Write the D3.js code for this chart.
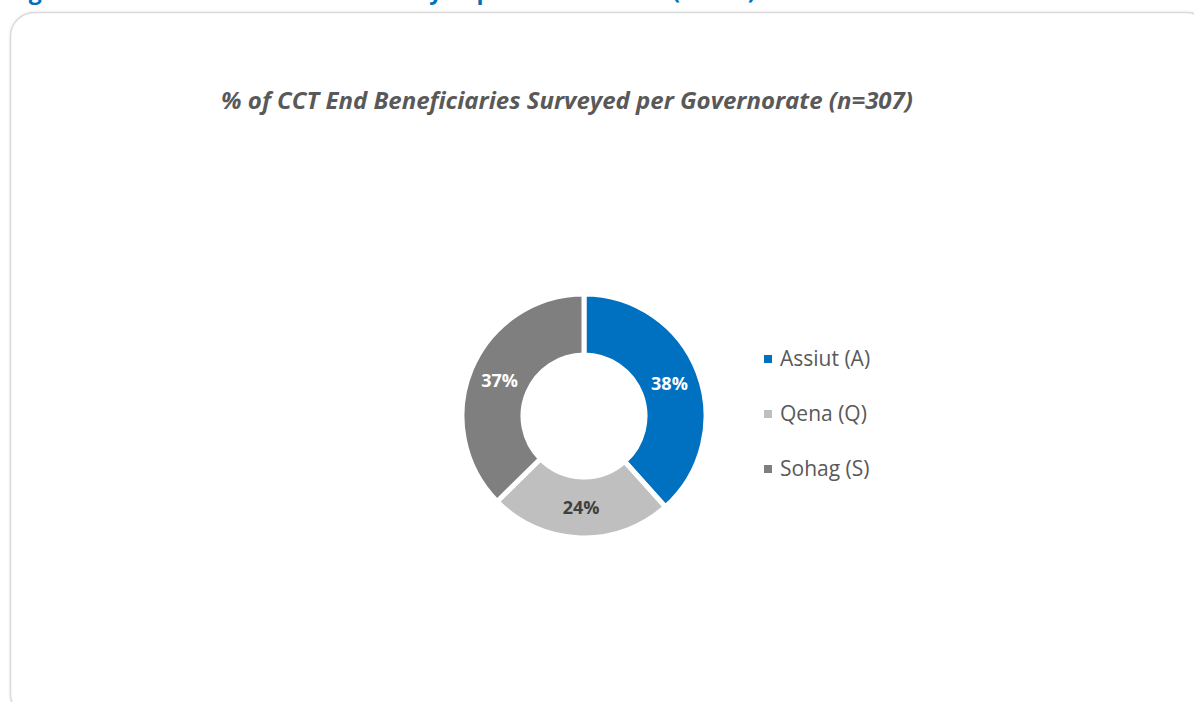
<!DOCTYPE html>
<html>
<head>
<meta charset="utf-8">
<script src="https://cdn.jsdelivr.net/npm/d3@7"></script>
<style>
  html, body { margin: 0; padding: 0; background: #ffffff; }
  svg { display: block; font-family: "Open Sans", sans-serif; }
</style>
</head>
<body>
<svg id="chart" width="1194" height="702"></svg>
<script>
// Share of surveyed CCT end beneficiaries by governorate (n=307)
const governorates = ["Assiut (A)", "Qena (Q)", "Sohag (S)"];
const shares = [38, 24, 37];
const sliceColors = ["#0070C0", "#BFBFBF", "#7F7F7F"];
const labelColors = ["#ffffff", "#404040", "#ffffff"];

const captionText = "Figure 2: CCT End Beneficiaries Surveyed per Governorate (n=307)";
const titleText = "% of CCT End Beneficiaries Surveyed per Governorate (n=307)";

const svg = d3.select("#chart");

// Figure caption running above the card
svg.append("text")
  .attr("x", 9)
  .attr("y", -1.5)
  .attr("fill", "#0070C0")
  .attr("font-size", 23)
  .attr("font-weight", 700)
  .text(captionText);

// Card with soft border
const defs = svg.append("defs");
const shadow = defs.append("filter").attr("id", "cardShadow")
  .attr("x", "-5%").attr("y", "-5%").attr("width", "110%").attr("height", "110%");
shadow.append("feDropShadow")
  .attr("dx", 0).attr("dy", 0).attr("stdDeviation", 1.2)
  .attr("flood-color", "#000").attr("flood-opacity", 0.12);

svg.append("rect")
  .attr("x", 10.5).attr("y", 12.5)
  .attr("width", 1200).attr("height", 705)
  .attr("rx", 24).attr("ry", 24)
  .attr("fill", "#ffffff")
  .attr("stroke", "#dadada")
  .attr("stroke-width", 1.5)
  .attr("filter", "url(#cardShadow)");

// Chart title
svg.append("text")
  .attr("x", 567)
  .attr("y", 109)
  .attr("text-anchor", "middle")
  .attr("fill", "#595959")
  .attr("font-size", 24)
  .attr("font-weight", 700)
  .attr("font-style", "italic")
  .text(titleText);

// Donut
const cx = 584, cy = 416;
const outerR = 122, innerR = 61;

const pie = d3.pie().sort(null).value(d => d);
const arcs = pie(shares);
const arc = d3.arc().innerRadius(innerR).outerRadius(outerR);
const labelArc = d3.arc().innerRadius((innerR + outerR) / 2).outerRadius((innerR + outerR) / 2);

const donut = svg.append("g").attr("transform", `translate(${cx},${cy})`);

donut.selectAll("path.slice")
  .data(arcs)
  .join("path")
  .attr("class", "slice")
  .attr("d", arc)
  .attr("fill", (d, i) => sliceColors[i])
  .attr("stroke", "#ffffff")
  .attr("stroke-width", 5)
  .attr("stroke-linejoin", "miter");

donut.selectAll("text.pct")
  .data(arcs)
  .join("text")
  .attr("class", "pct")
  .attr("transform", d => `translate(${labelArc.centroid(d)})`)
  .attr("text-anchor", "middle")
  .attr("dy", "0.36em")
  .attr("font-size", 18)
  .attr("font-weight", 700)
  .attr("fill", (d, i) => labelColors[i])
  .text(d => d3.format(".0f")(d.data) + "%");

// Legend
const legendY = d3.scalePoint()
  .domain(governorates)
  .range([359, 469]);

const legend = svg.append("g");
const items = legend.selectAll("g.item")
  .data(governorates)
  .join("g")
  .attr("class", "item")
  .attr("transform", d => `translate(764,${legendY(d)})`);

items.append("rect")
  .attr("x", 0).attr("y", -4)
  .attr("width", 8).attr("height", 8)
  .attr("fill", (d, i) => sliceColors[i]);

items.append("text")
  .attr("x", 16)
  .attr("dy", "0.35em")
  .attr("font-size", 21)
  .attr("fill", "#595959")
  .text(d => d);
</script>
</body>
</html>
